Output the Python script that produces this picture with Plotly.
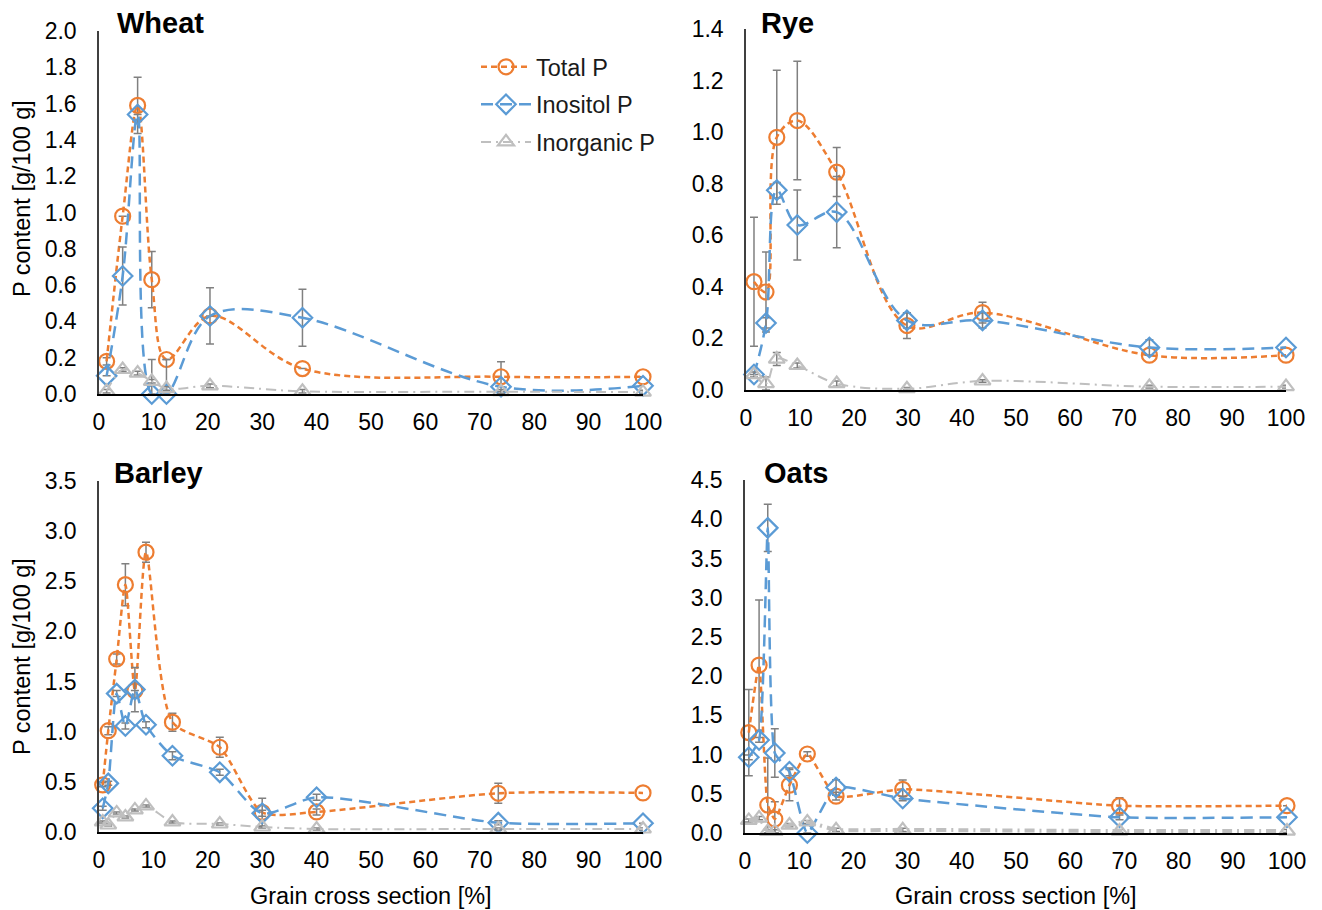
import plotly.graph_objects as go

# ---------------- data ----------------
# Wheat
x_wheat = [1.4, 4.35, 7.1, 9.7, 12.4, 20.4, 37.4, 73.9, 100]
total_wheat = [0.18, 0.98, 1.59, 0.63, 0.19, 0.43, 0.14, 0.095, 0.095]
inos_wheat = [0.10, 0.65, 1.54, 0.0, 0.0, 0.43, 0.42, 0.04, 0.045]
inorg_wheat = [0.015, 0.135, 0.115, 0.07, 0.03, 0.045, 0.015, 0.013, 0.01]
err_total_wheat = [0.02, 0.0, 0.155, 0.155, 0.0, 0.155, 0.0, 0.083, 0.0]
err_inos_wheat = [0.0, 0.16, 0.0, 0.19, 0.19, 0.0, 0.157, 0.0, 0.0]
err_inorg_wheat = [0.01, 0.01, 0.01, 0.01, 0.01, 0.01, 0.01, 0.01, 0.01]

# Rye
x_rye = [1.48, 3.7, 5.7, 9.5, 16.8, 29.8, 43.8, 74.7, 100]
total_rye = [0.42, 0.38, 0.98, 1.045, 0.845, 0.25, 0.30, 0.135, 0.135]
inos_rye = [0.06, 0.26, 0.775, 0.64, 0.69, 0.27, 0.27, 0.165, 0.165]
inorg_rye = [0.06, 0.025, 0.12, 0.095, 0.025, 0.005, 0.035, 0.013, 0.013]
err_total_rye = [0.25, 0.155, 0.26, 0.23, 0.095, 0.05, 0.04, 0.0, 0.0]
err_inos_rye = [0.0, 0.02, 0.03, 0.136, 0.138, 0.03, 0.03, 0.03, 0.0]
err_inorg_rye = [0.01, 0.025, 0.025, 0.01, 0.01, 0.005, 0.005, 0.005, 0.005]

# Barley
x_barley = [0.68, 1.7, 3.25, 4.85, 6.6, 8.64, 13.5, 22.2, 30.0, 40.0, 73.4, 100]
total_barley = [0.47, 1.01, 1.725, 2.466, 1.41, 2.79, 1.095, 0.845, 0.196, 0.20, 0.386, 0.39]
inos_barley = [0.236, 0.485, 1.38, 1.057, 1.42, 1.07, 0.76, 0.595, 0.186, 0.346, 0.093, 0.087]
inorg_barley = [0.10, 0.07, 0.19, 0.15, 0.22, 0.26, 0.10, 0.08, 0.05, 0.03, 0.03, 0.03]
err_total_barley = [0.02, 0.04, 0.05, 0.21, 0.0, 0.1, 0.09, 0.1, 0.14, 0.03, 0.1, 0.0]
err_inos_barley = [0.02, 0.02, 0.03, 0.03, 0.22, 0.03, 0.04, 0.03, 0.03, 0.03, 0.02, 0.0]
err_inorg_barley = [0.01] * 12

# Oats
x_oats = [0.7, 2.6, 4.2, 5.5, 8.2, 11.5, 16.8, 29.1, 69.1, 100]
total_oats = [1.28, 2.14, 0.357, 0.178, 0.61, 1.007, 0.47, 0.557, 0.348, 0.348]
inos_oats = [0.965, 1.186, 3.89, 1.02, 0.78, 0.0, 0.58, 0.44, 0.20, 0.20]
inorg_oats = [0.16, 0.19, 0.02, 0.02, 0.10, 0.14, 0.04, 0.04, 0.025, 0.025]
err_total_oats = [0.55, 0.83, 0.6, 0.22, 0.2, 0.03, 0.05, 0.12, 0.1, 0.0]
err_inos_oats = [0.03, 0.03, 0.3, 0.31, 0.05, 0.0, 0.1, 0.03, 0.03, 0.0]
err_inorg_oats = [0.02] * 10

series_names = ["Total P", "Inositol P", "Inorganic P"]
panel_titles = ["Wheat", "Rye", "Barley", "Oats"]
y_ranges = [(0, 2.0, 0.2), (0, 1.4, 0.2), (0, 3.5, 0.5), (0, 4.5, 0.5)]

# ---------------- style ----------------
FONT = "Liberation Sans, Arial, sans-serif"
C_TOTAL = "#ED7D31"
C_INOS = "#5B9BD5"
C_INORG = "#BFBFBF"
C_ERR = "#808080"

styles = [
    dict(color=C_TOTAL, dash="6px,4px", symbol="circle-open", size=15, width=2.5),
    dict(color=C_INOS, dash="12px,7px", symbol="diamond-open", size=15, width=2.5),
    dict(color=C_INORG, dash="10px,5px,2px,5px", symbol="triangle-up-open", size=14, width=2),
]

panels = [
    (x_wheat, [total_wheat, inos_wheat, inorg_wheat],
     [err_total_wheat, err_inos_wheat, err_inorg_wheat], 1.0),
    (x_rye, [total_rye, inos_rye, inorg_rye],
     [err_total_rye, err_inos_rye, err_inorg_rye], 1.0),
    (x_barley, [total_barley, inos_barley, inorg_barley],
     [err_total_barley, err_inos_barley, err_inorg_barley], 0.7),
    (x_oats, [total_oats, inos_oats, inorg_oats],
     [err_total_oats, err_inos_oats, err_inorg_oats], 0.5),
]

# page body has an 8px margin: the figure starts at (8, 8) in the window
OFF = 8
W, H = 1322 - OFF, 910 - OFF


def px_x(px):
    return (px - OFF) / W


def px_y(py):
    return 1 - (py - OFF) / H


# plot-area pixel boxes in window coordinates: (left, right, top, bottom)
boxes = [(99, 643, 31, 394), (746, 1286, 29, 390), (99, 643, 481, 832), (745, 1287, 480, 833)]

fig = go.Figure()

for p, (xs, ys_list, errs_list, smooth) in enumerate(panels):
    ax = "" if p == 0 else str(p + 1)
    for s, (ys, errs) in enumerate(zip(ys_list, errs_list)):
        st = styles[s]
        lw = st["width"]
        if p == 3 and s == 2:
            lw = 4
        minus = [min(e, v) for e, v in zip(errs, ys)]
        fig.add_trace(go.Scatter(
            x=xs, y=ys, name=series_names[s],
            mode="lines+markers",
            line=dict(color=st["color"], dash=st["dash"], width=lw,
                      shape="spline", smoothing=smooth),
            marker=dict(symbol=st["symbol"], size=st["size"], color=st["color"],
                        line=dict(width=2.2, color=st["color"])),
            error_y=dict(type="data", array=errs, arrayminus=minus, symmetric=False,
                         color=C_ERR, thickness=1.5, width=4),
            cliponaxis=False,
            showlegend=(p == 0),
            legendgroup=series_names[s],
            xaxis="x" + ax, yaxis="y" + ax,
        ))

layout = dict(
    width=W, height=H,
    margin=dict(l=0, r=0, t=0, b=0, autoexpand=False),
    paper_bgcolor="white", plot_bgcolor="white",
    font=dict(family=FONT, size=23, color="black"),
    showlegend=True,
    legend=dict(x=px_x(476), y=px_y(45), xanchor="left", yanchor="top",
                font=dict(family=FONT, size=23.5, color="#1a1a1a"),
                bgcolor="rgba(0,0,0,0)", itemwidth=50,
                tracegroupgap=4, traceorder="grouped"),
)

for p in range(4):
    l, r, t, b = boxes[p]
    ax = "" if p == 0 else str(p + 1)
    y0, y1, dy = y_ranges[p]
    layout["xaxis" + ax] = dict(
        domain=[px_x(l), px_x(r)], range=[0, 100], dtick=10, tick0=0,
        showgrid=False, zeroline=False, showline=True, linecolor="black", linewidth=1.5,
        ticks="", ticklabelstandoff=7, anchor="y" + ax, automargin=False,
        tickfont=dict(family=FONT, size=23, color="black"),
    )
    layout["yaxis" + ax] = dict(
        domain=[px_y(b), px_y(t)], range=[y0, y1], dtick=dy, tick0=0,
        tickformat=".1f",
        showgrid=False, zeroline=False, showline=True, linecolor="#404040", linewidth=1.5,
        ticks="", ticklabelstandoff=16, anchor="x" + ax, automargin=False,
        tickfont=dict(family=FONT, size=23, color="black"),
    )

fig.update_layout(**layout)

# panel titles
title_pos = [(160, 23), (787, 23), (158, 473), (796, 473)]
for name, (px, py) in zip(panel_titles, title_pos):
    fig.add_annotation(text="<b>" + name + "</b>", x=px_x(px), y=px_y(py),
                       xref="paper", yref="paper", showarrow=False,
                       xanchor="center", yanchor="middle",
                       font=dict(family=FONT, size=29, color="black"))

# y axis titles
for py in (199, 657):
    fig.add_annotation(text="P content [g/100 g]", x=px_x(22), y=px_y(py),
                       xref="paper", yref="paper", showarrow=False, textangle=-90,
                       xanchor="center", yanchor="middle",
                       font=dict(family=FONT, size=23.5, color="black"))

# x axis titles
for px in (371, 1016):
    fig.add_annotation(text="Grain cross section [%]", x=px_x(px), y=px_y(896),
                       xref="paper", yref="paper", showarrow=False,
                       xanchor="center", yanchor="middle",
                       font=dict(family=FONT, size=23.5, color="black"))

fig.write_html("out.html")
